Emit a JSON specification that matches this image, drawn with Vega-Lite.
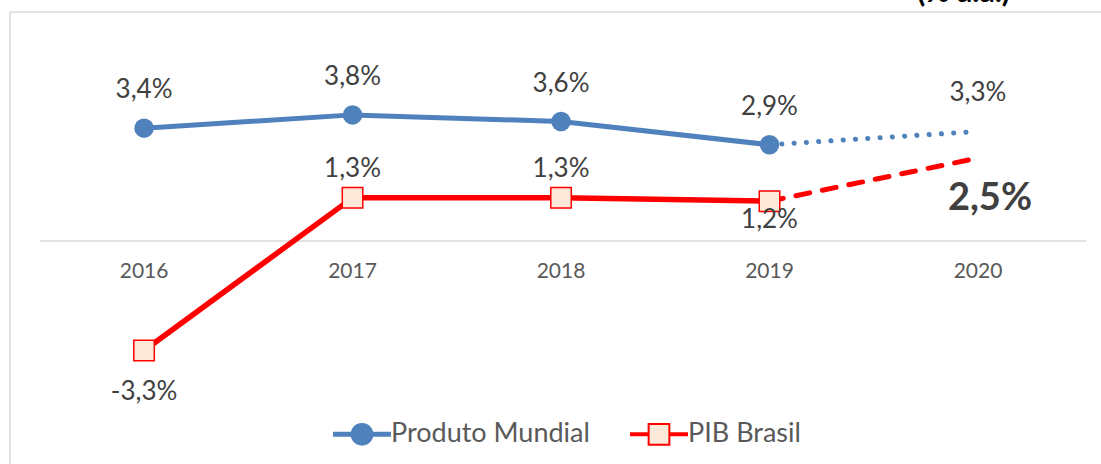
{
  "$schema": "https://vega.github.io/schema/vega-lite/v6.json",
  "width": 1091,
  "height": 452,
  "autosize": {"type": "none"},
  "padding": {"left": 10, "top": 12, "right": 0, "bottom": 0},
  "background": "white",
  "config": {
    "view": {"stroke": null},
    "font": "Lato",
    "locale": {"number": {"decimal": ",", "thousands": ".", "grouping": [3], "currency": ["R$", ""], "minus": "-"}}
  },
  "title": {
    "text": "(% a.a.)",
    "anchor": "end",
    "frame": "group",
    "orient": "top",
    "offset": 0,
    "dy": 21,
    "dx": -91,
    "baseline": "alphabetic",
    "fontSize": 30,
    "fontWeight": "bold",
    "color": "#000000",
    "font": "Lato"
  },
  "data": {
    "values": [
      {"serie": "Produto Mundial", "trecho": "realizado", "ano": 2016, "valor": 0.034},
      {"serie": "Produto Mundial", "trecho": "realizado", "ano": 2017, "valor": 0.038},
      {"serie": "Produto Mundial", "trecho": "realizado", "ano": 2018, "valor": 0.036},
      {"serie": "Produto Mundial", "trecho": "realizado", "ano": 2019, "valor": 0.029},
      {"serie": "Produto Mundial", "trecho": "projecao", "ano": 2019, "valor": 0.029},
      {"serie": "Produto Mundial", "trecho": "projecao", "ano": 2020, "valor": 0.033},
      {"serie": "PIB Brasil", "trecho": "realizado", "ano": 2016, "valor": -0.033},
      {"serie": "PIB Brasil", "trecho": "realizado", "ano": 2017, "valor": 0.013},
      {"serie": "PIB Brasil", "trecho": "realizado", "ano": 2018, "valor": 0.013},
      {"serie": "PIB Brasil", "trecho": "realizado", "ano": 2019, "valor": 0.012},
      {"serie": "PIB Brasil", "trecho": "projecao", "ano": 2019, "valor": 0.012},
      {"serie": "PIB Brasil", "trecho": "projecao", "ano": 2020, "valor": 0.025}
    ]
  },
  "layer": [
    {
      "data": {"values": [{}]},
      "mark": {"type": "rule", "color": "#d9d9d9", "strokeWidth": 1.5},
      "encoding": {
        "x": {"datum": 2015.357, "type": "quantitative", "scale": {"domain": [2015.357, 2020.59], "nice": false, "zero": false}, "axis": null}
      }
    },
    {
      "data": {"values": [{}]},
      "mark": {"type": "rule", "color": "#d9d9d9", "strokeWidth": 1.5},
      "encoding": {
        "y": {"datum": 0.069, "type": "quantitative", "scale": {"domain": [-0.0672, 0.069], "nice": false, "zero": false}, "axis": null}
      }
    },
    {
      "data": {"values": [{}]},
      "mark": {"type": "rule", "color": "#d9d9d9", "strokeWidth": 1.5},
      "encoding": {
        "x": {"datum": 2015.5, "type": "quantitative", "scale": {"domain": [2015.357, 2020.59], "nice": false, "zero": false}, "axis": null},
        "x2": {"datum": 2020.52},
        "y": {"datum": 0, "type": "quantitative", "scale": {"domain": [-0.0672, 0.069], "nice": false, "zero": false}, "axis": null}
      }
    },
    {
      "data": {"values": [{"ano": 2016}, {"ano": 2017}, {"ano": 2018}, {"ano": 2019}, {"ano": 2020}]},
      "mark": {"type": "text", "fontSize": 21, "color": "#595959", "baseline": "middle", "align": "center"},
      "encoding": {
        "x": {"field": "ano", "type": "quantitative", "scale": {"domain": [2015.357, 2020.59], "nice": false, "zero": false}, "axis": null},
        "y": {"datum": -0.00934, "type": "quantitative", "scale": {"domain": [-0.0672, 0.069], "nice": false, "zero": false}, "axis": null},
        "text": {"field": "ano", "type": "nominal"}
      }
    },
    {
      "transform": [{"filter": "datum.trecho == 'realizado' && datum.serie == 'Produto Mundial'"}],
      "mark": {"type": "line", "strokeWidth": 5, "strokeJoin": "round", "strokeCap": "round", "color": "#4f81bd"},
      "encoding": {
        "x": {"field": "ano", "type": "quantitative", "scale": {"domain": [2015.357, 2020.59], "nice": false, "zero": false}, "axis": null},
        "y": {"field": "valor", "type": "quantitative", "scale": {"domain": [-0.0672, 0.069], "nice": false, "zero": false}, "axis": null}
      }
    },
    {
      "transform": [{"filter": "datum.trecho == 'realizado' && datum.serie == 'PIB Brasil'"}],
      "mark": {"type": "line", "strokeWidth": 5.5, "strokeJoin": "round", "strokeCap": "round", "color": "#ff0000"},
      "encoding": {
        "x": {"field": "ano", "type": "quantitative", "scale": {"domain": [2015.357, 2020.59], "nice": false, "zero": false}, "axis": null},
        "y": {"field": "valor", "type": "quantitative", "scale": {"domain": [-0.0672, 0.069], "nice": false, "zero": false}, "axis": null}
      }
    },
    {
      "transform": [{"filter": "datum.trecho == 'projecao' && datum.serie == 'Produto Mundial'"}],
      "mark": {"type": "line", "strokeWidth": 5, "strokeCap": "round", "strokeDash": [0.1, 12.2], "color": "#4f81bd"},
      "encoding": {
        "x": {"field": "ano", "type": "quantitative", "scale": {"domain": [2015.357, 2020.59], "nice": false, "zero": false}, "axis": null},
        "y": {"field": "valor", "type": "quantitative", "scale": {"domain": [-0.0672, 0.069], "nice": false, "zero": false}, "axis": null}
      }
    },
    {
      "transform": [{"filter": "datum.trecho == 'projecao' && datum.serie == 'PIB Brasil'"}],
      "mark": {"type": "line", "strokeWidth": 5, "strokeCap": "round", "strokeDash": [14, 13], "color": "#ff0000"},
      "encoding": {
        "x": {"field": "ano", "type": "quantitative", "scale": {"domain": [2015.357, 2020.59], "nice": false, "zero": false}, "axis": null},
        "y": {"field": "valor", "type": "quantitative", "scale": {"domain": [-0.0672, 0.069], "nice": false, "zero": false}, "axis": null}
      }
    },
    {
      "transform": [{"filter": "datum.trecho == 'realizado' && datum.serie == 'Produto Mundial'"}],
      "mark": {"type": "point", "shape": "circle", "filled": true, "size": 380, "fill": "#4f81bd", "strokeWidth": 0, "opacity": 1},
      "encoding": {
        "x": {"field": "ano", "type": "quantitative", "scale": {"domain": [2015.357, 2020.59], "nice": false, "zero": false}, "axis": null},
        "y": {"field": "valor", "type": "quantitative", "scale": {"domain": [-0.0672, 0.069], "nice": false, "zero": false}, "axis": null}
      }
    },
    {
      "transform": [{"filter": "datum.trecho == 'realizado' && datum.serie == 'PIB Brasil'"}],
      "mark": {"type": "point", "shape": "square", "filled": true, "size": 420, "fill": "#fde9d9", "stroke": "#ff0000", "strokeWidth": 1.5, "opacity": 1},
      "encoding": {
        "x": {"field": "ano", "type": "quantitative", "scale": {"domain": [2015.357, 2020.59], "nice": false, "zero": false}, "axis": null},
        "y": {"field": "valor", "type": "quantitative", "scale": {"domain": [-0.0672, 0.069], "nice": false, "zero": false}, "axis": null}
      }
    },
    {
      "transform": [{"filter": "datum.trecho == 'realizado'"}],
      "mark": {"type": "point", "filled": true, "opacity": 0, "strokeWidth": 2},
      "encoding": {
        "x": {"field": "ano", "type": "quantitative", "scale": {"domain": [2015.357, 2020.59], "nice": false, "zero": false}, "axis": null},
        "y": {"field": "valor", "type": "quantitative", "scale": {"domain": [-0.0672, 0.069], "nice": false, "zero": false}, "axis": null},
        "fill": {
          "field": "serie", "type": "nominal",
          "scale": {"domain": ["Produto Mundial", "PIB Brasil"], "range": ["#4f81bd", "#fde9d9"]},
          "legend": {"orient": "none", "legendX": 323, "legendY": 393, "direction": "horizontal", "title": null, "symbolSize": 3136, "symbolOpacity": 1, "symbolStrokeWidth": 2, "labelFontSize": 27, "labelFont": "Lato", "labelColor": "#595959", "labelOffset": 0, "labelLimit": 400, "columnPadding": 37}
        },
        "stroke": {
          "field": "serie", "type": "nominal",
          "scale": {"domain": ["Produto Mundial", "PIB Brasil"], "range": ["#4f81bd", "#ff0000"]},
          "legend": {"orient": "none", "legendX": 323, "legendY": 393, "direction": "horizontal", "title": null, "symbolSize": 3136, "symbolOpacity": 1, "symbolStrokeWidth": 2, "labelFontSize": 27, "labelFont": "Lato", "labelColor": "#595959", "labelOffset": 0, "labelLimit": 400, "columnPadding": 37}
        },
        "shape": {
          "field": "serie", "type": "nominal",
          "scale": {"domain": ["Produto Mundial", "PIB Brasil"], "range": [
            "M-1,-0.054H-0.34V0.054H-1Z M0.34,-0.054H1V0.054H0.34Z M-0.37,0A0.37,0.37 0 1,1 0.37,0A0.37,0.37 0 1,1 -0.37,0Z",
            "M-1,-0.036H-0.39V0.036H-1Z M0.39,-0.036H1V0.036H0.39Z M-0.37,-0.37H0.37V0.37H-0.37Z"
          ]},
          "legend": {"orient": "none", "legendX": 323, "legendY": 393, "direction": "horizontal", "title": null, "symbolSize": 3136, "symbolOpacity": 1, "symbolStrokeWidth": 2, "labelFontSize": 27, "labelFont": "Lato", "labelColor": "#595959", "labelOffset": 0, "labelLimit": 400, "columnPadding": 37}
        }
      }
    },
    {
      "transform": [{"filter": "datum.serie == 'Produto Mundial' && (datum.trecho == 'realizado' || datum.ano == 2020)"}],
      "mark": {"type": "text", "fontSize": 26, "color": "#404040", "baseline": "middle", "align": "center", "dy": -38},
      "encoding": {
        "x": {"field": "ano", "type": "quantitative", "scale": {"domain": [2015.357, 2020.59], "nice": false, "zero": false}, "axis": null},
        "y": {"field": "valor", "type": "quantitative", "scale": {"domain": [-0.0672, 0.069], "nice": false, "zero": false}, "axis": null},
        "text": {"field": "valor", "type": "quantitative", "format": ".1%"}
      }
    },
    {
      "transform": [{"filter": "datum.serie == 'PIB Brasil' && (datum.ano == 2017 || datum.ano == 2018)"}],
      "mark": {"type": "text", "fontSize": 26, "color": "#404040", "baseline": "middle", "align": "center", "dy": -29},
      "encoding": {
        "x": {"field": "ano", "type": "quantitative", "scale": {"domain": [2015.357, 2020.59], "nice": false, "zero": false}, "axis": null},
        "y": {"field": "valor", "type": "quantitative", "scale": {"domain": [-0.0672, 0.069], "nice": false, "zero": false}, "axis": null},
        "text": {"field": "valor", "type": "quantitative", "format": ".1%"}
      }
    },
    {
      "transform": [{"filter": "datum.serie == 'PIB Brasil' && datum.ano == 2016"}],
      "mark": {"type": "text", "fontSize": 26, "color": "#404040", "baseline": "middle", "align": "center", "dy": 41},
      "encoding": {
        "x": {"field": "ano", "type": "quantitative", "scale": {"domain": [2015.357, 2020.59], "nice": false, "zero": false}, "axis": null},
        "y": {"field": "valor", "type": "quantitative", "scale": {"domain": [-0.0672, 0.069], "nice": false, "zero": false}, "axis": null},
        "text": {"field": "valor", "type": "quantitative", "format": ".1%"}
      }
    },
    {
      "transform": [{"filter": "datum.serie == 'PIB Brasil' && datum.ano == 2019 && datum.trecho == 'realizado'"}],
      "mark": {"type": "text", "fontSize": 26, "color": "#404040", "baseline": "middle", "align": "center", "dy": 19},
      "encoding": {
        "x": {"field": "ano", "type": "quantitative", "scale": {"domain": [2015.357, 2020.59], "nice": false, "zero": false}, "axis": null},
        "y": {"field": "valor", "type": "quantitative", "scale": {"domain": [-0.0672, 0.069], "nice": false, "zero": false}, "axis": null},
        "text": {"field": "valor", "type": "quantitative", "format": ".1%"}
      }
    },
    {
      "transform": [{"filter": "datum.serie == 'PIB Brasil' && datum.ano == 2020"}],
      "mark": {"type": "text", "fontSize": 38, "fontWeight": "bold", "color": "#404040", "baseline": "middle", "align": "center", "dy": 41, "dx": 12},
      "encoding": {
        "x": {"field": "ano", "type": "quantitative", "scale": {"domain": [2015.357, 2020.59], "nice": false, "zero": false}, "axis": null},
        "y": {"field": "valor", "type": "quantitative", "scale": {"domain": [-0.0672, 0.069], "nice": false, "zero": false}, "axis": null},
        "text": {"field": "valor", "type": "quantitative", "format": ".1%"}
      }
    }
  ]
}
